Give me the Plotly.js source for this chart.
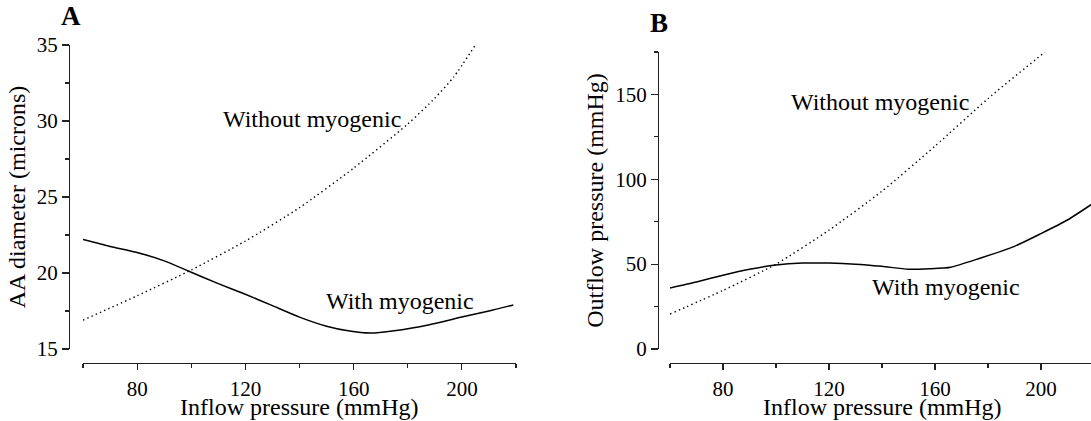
<!DOCTYPE html>
<html>
<head>
<meta charset="utf-8">
<script src="https://cdn.plot.ly/plotly-3.0.1.min.js"></script>
<style>html,body{margin:0;padding:0;background:#fff;}#chart{width:1091px;height:421px;}</style>
</head>
<body>
<div id="chart"></div>
<script>
// Panel A: AA diameter (microns) vs inflow pressure (mmHg)
const inflowA_with = [60, 70, 80, 90, 100, 110, 120, 130, 140, 150, 158, 166, 175, 188, 200, 210, 219];
const diameterA_with = [22.2, 21.75, 21.35, 20.8, 20.05, 19.3, 18.6, 17.85, 17.1, 16.5, 16.2, 16.05, 16.2, 16.6, 17.1, 17.5, 17.9];
const inflowA_without = [60, 80, 100, 120, 140, 160, 180, 190, 197, 205];
const diameterA_without = [16.9, 18.5, 20.2, 22.1, 24.3, 26.9, 29.8, 31.5, 32.9, 35.0];

// Panel B: Outflow pressure (mmHg) vs inflow pressure (mmHg)
const inflowB_with = [60, 70, 80, 90, 100, 110, 120, 130, 140, 150, 158, 166, 177, 190, 200, 210, 218.9];
const outflowB_with = [36, 39.5, 43.5, 47, 49.5, 50.6, 50.6, 50, 48.7, 47, 47.3, 48.2, 53.5, 60.5, 68, 76, 85];
const inflowB_without = [60, 80, 100, 120, 140, 160, 180, 201.5];
const outflowB_without = [20.6, 34.5, 50, 70, 93, 119.5, 147.5, 175];

const xTitle = "Inflow pressure (mmHg)";
const yTitleA = "AA diameter (microns)";
const yTitleB = "Outflow pressure (mmHg)";

const W = 1091, H = 421;
const FONT = "Liberation Serif, Times New Roman, serif";
const AX = '#222';

function xAxis(domain, range) {
  return {
    domain: domain, range: range, anchor: 'free', position: 58 / H,
    showline: true, linecolor: AX, linewidth: 1.3, mirror: false,
    showgrid: false, zeroline: false,
    ticks: 'outside', ticklen: 6, tickwidth: 1.2, tickcolor: AX,
    tick0: 0, dtick: 40,
    minor: {ticks: 'outside', ticklen: 4, tickwidth: 1.2, tickcolor: AX, dtick: 20, tick0: 0, showgrid: false},
    tickfont: {family: FONT, size: 21, color: '#000'},
    automargin: false, fixedrange: true
  };
}
function yAxis(domain, range, pos, dtick, title) {
  return {
    domain: domain, range: range, anchor: 'free', position: pos,
    showline: true, linecolor: AX, linewidth: 1.3,
    showgrid: false, zeroline: false,
    ticks: 'outside', ticklen: 7, tickwidth: 1.2, tickcolor: AX,
    tick0: 0, dtick: dtick,
    minor: {ticks: 'outside', ticklen: 4, tickwidth: 1.2, tickcolor: AX, dtick: dtick / 2, tick0: 0, showgrid: false},
    tickfont: {family: FONT, size: 21, color: '#000'},
    title: {text: title, font: {family: FONT, size: 24, color: '#000'}, standoff: 3},
    automargin: false, fixedrange: true
  };
}

const solid = {color: '#000', width: 1.5, shape: 'spline', smoothing: 0.6};
const dotted = {color: '#000', width: 1.4, dash: '1.4px,3.2px', shape: 'spline', smoothing: 0.6};

const data = [
  {x: inflowA_with, y: diameterA_with, xaxis: 'x', yaxis: 'y', mode: 'lines', line: solid, cliponaxis: false, hoverinfo: 'skip'},
  {x: inflowA_without, y: diameterA_without, xaxis: 'x', yaxis: 'y', mode: 'lines', line: dotted, cliponaxis: false, hoverinfo: 'skip'},
  {x: inflowB_with, y: outflowB_with, xaxis: 'x2', yaxis: 'y2', mode: 'lines', line: solid, cliponaxis: false, hoverinfo: 'skip'},
  {x: inflowB_without, y: outflowB_without, xaxis: 'x2', yaxis: 'y2', mode: 'lines', line: dotted, cliponaxis: false, hoverinfo: 'skip'}
];

const annFont = {family: FONT, size: 24, color: '#000'};
const layout = {
  width: W, height: H,
  margin: {l: 0, r: 0, t: 0, b: 0, pad: 0},
  paper_bgcolor: '#fff', plot_bgcolor: 'rgba(0,0,0,0)',
  showlegend: false,
  xaxis: xAxis([83 / W, 516 / W], [60, 220]),
  yaxis: yAxis([72 / H, 376 / H], [15, 35], 69 / W, 5, yTitleA),
  xaxis2: xAxis([670 / W, 1], [60, 218.9]),
  yaxis2: yAxis([72 / H, 369 / H], [0, 175], 658 / W, 50, yTitleB),
  annotations: [
    {text: '<b>A</b>', xref: 'paper', yref: 'paper', x: 71 / W, y: 1 - 15.5 / H, xanchor: 'center', yanchor: 'middle', showarrow: false, font: {family: FONT, size: 27, color: '#000'}},
    {text: '<b>B</b>', xref: 'paper', yref: 'paper', x: 659 / W, y: 1 - 23.5 / H, xanchor: 'center', yanchor: 'middle', showarrow: false, font: {family: FONT, size: 27, color: '#000'}},
    {text: xTitle, xref: 'paper', yref: 'paper', x: 299.5 / W, y: 1 - 406.5 / H, xanchor: 'center', yanchor: 'middle', showarrow: false, font: annFont},
    {text: xTitle, xref: 'paper', yref: 'paper', x: 882 / W, y: 1 - 406.5 / H, xanchor: 'center', yanchor: 'middle', showarrow: false, font: annFont},
    {text: 'Without myogenic', xref: 'x', yref: 'y', x: 144.8, y: 30.16, xanchor: 'center', yanchor: 'middle', showarrow: false, font: annFont},
    {text: 'With myogenic', xref: 'x', yref: 'y', x: 177, y: 18.19, xanchor: 'center', yanchor: 'middle', showarrow: false, font: annFont},
    {text: 'Without myogenic', xref: 'x2', yref: 'y2', x: 139.4, y: 145.6, xanchor: 'center', yanchor: 'middle', showarrow: false, font: annFont},
    {text: 'With myogenic', xref: 'x2', yref: 'y2', x: 164, y: 36.8, xanchor: 'center', yanchor: 'middle', showarrow: false, font: annFont}
  ]
};

Plotly.newPlot('chart', data, layout, {staticPlot: true, displayModeBar: false});
</script>
</body>
</html>
